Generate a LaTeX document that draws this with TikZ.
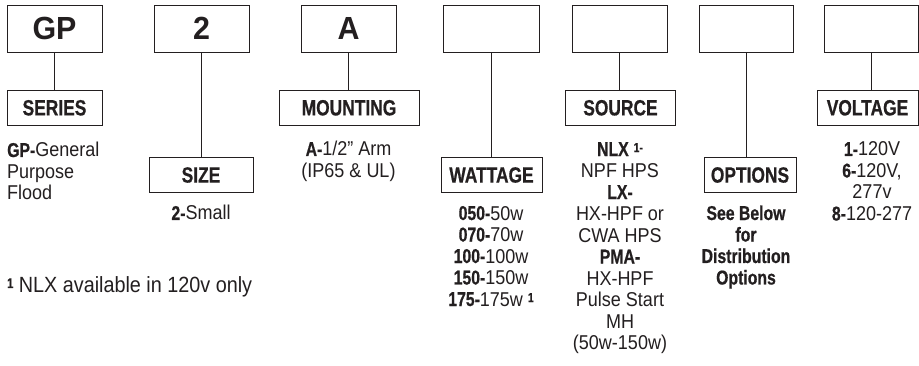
\documentclass[tikz,border=0pt]{standalone}
\usepackage{fontspec}
\setmainfont{Liberation Sans}[FakeStretch=0.9]
\newfontfamily\bdf{Liberation Sans}[FakeStretch=0.79,BoldFeatures={FakeBold=0.6}]
\newfontfamily\bigf{Liberation Sans}[FakeStretch=0.95]
\newcommand\B[1]{{\bdf\bfseries #1}}
\newcommand\supone{\raisebox{4pt}{\fontsize{13}{13}\selectfont\B{1}}}
\newcommand\suponedash{\raisebox{4pt}{\fontsize{13}{13}\selectfont\B{1-}}}
\newcommand\supfn{\raisebox{5pt}{\fontsize{14}{14}\selectfont\B{1}}}
\definecolor{ink}{HTML}{231F20}
\begin{document}
\begin{tikzpicture}[x=1pt,y=-1pt,
  topbox/.style={draw=ink, line width=0.9pt, minimum width=95pt, minimum height=47pt, inner sep=0pt, text=ink, font=\bigf\bfseries\fontsize{32}{32}\selectfont},
  labelbox/.style={draw=ink, line width=0.9pt, minimum height=35pt, inner sep=0pt, text=ink, font=\bdf\bfseries\fontsize{22}{22}\selectfont},
  desc/.style={inner sep=0pt, align=center, anchor=base, text=ink, font=\fontsize{20}{21.5}\selectfont},
  conn/.style={draw=ink, line width=0.9pt}]
\useasboundingbox (0,0) rectangle (919,366);
\fill[white] (0,0) rectangle (919,366);
% top boxes
\node[topbox] (t1) at (54.5,28.5) {GP};
\node[topbox] (t2) at (201.5,28.5) {2};
\node[topbox] (t3) at (348.5,28.5) {A};
\node[topbox, minimum width=96pt] (t4) at (491,28.5) {};
\node[topbox] (t5) at (619.5,28.5) {};
\node[topbox, minimum width=94pt] (t6) at (746,28.5) {};
\node[topbox, minimum width=94pt] (t7) at (871,28.5) {};
% label boxes
\node[labelbox, minimum width=95pt] (l1) at (54.5,107.8) {SERIES};
\node[labelbox, minimum width=104pt] (l2) at (201,175) {SIZE};
\node[labelbox, minimum width=140pt] (l3) at (349,107.8) {MOUNTING};
\node[labelbox, minimum width=101pt] (l4) at (491.5,175) {WATTAGE};
\node[labelbox, minimum width=110pt] (l5) at (620.5,107.8) {SOURCE};
\node[labelbox, minimum width=92pt] (l6) at (750,175) {OPTIONS};
\node[labelbox, minimum width=101pt] (l7) at (867.5,107.8) {VOLTAGE};
% connectors
\foreach \i in {1,...,7}{
  \draw[conn] (t\i.south) -- (t\i.south |- l\i.north);
}
% descriptions (anchored at the baseline of the last line)
\node[desc, align=left, anchor=base west] (d1) at (7,200) {\B{GP-}General\\Purpose\\Flood};
\node[desc] (d2) at (201,220) {\B{2-}Small};
\node[desc] (d3) at (348.5,177.5) {\B{A-}1/2” Arm\\(IP65 \& UL)};
\node[desc] (d4) at (491,306) {\B{050-}50w\\\B{070-}70w\\\B{100-}100w\\\B{150-}150w\\\B{175-}175w \supone};
\node[desc] (d5) at (620,349.5) {\B{NLX} \suponedash\\NPF HPS\\\B{LX-}\\HX-HPF or\\CWA HPS\\\B{PMA-}\\HX-HPF\\Pulse Start\\MH\\(50w-150w)};
\node[desc, font=\bdf\bfseries\fontsize{20}{21.5}\selectfont] (d6) at (746,284.5) {See Below\\for\\Distribution\\Options};
\node[desc] (d7) at (872,220.5) {\B{1-}120V\\\B{6-}120V,\\277v\\\B{8-}120-277};
% footnote
\node[inner sep=0pt, anchor=base west, text=ink, font=\fontsize{22}{22}\selectfont] (fn) at (7,293) {\supfn\ NLX available in 120v only};
\end{tikzpicture}
\end{document}
